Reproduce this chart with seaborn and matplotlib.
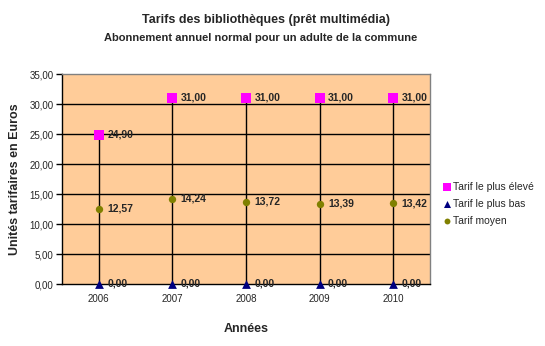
import matplotlib
matplotlib.use("Agg")
import matplotlib.pyplot as plt
import seaborn as sns
import pandas as pd
import numpy as np

years = ["2006", "2007", "2008", "2009", "2010"]
tarif_max = [24.90, 31.00, 31.00, 31.00, 31.00]
tarif_min = [0.00, 0.00, 0.00, 0.00, 0.00]
tarif_moyen = [12.57, 14.24, 13.72, 13.39, 13.42]
y_ticks = [0, 5, 10, 15, 20, 25, 30, 35]

sns.set_style("white")
plt.rcParams["font.family"] = ["Liberation Sans", "DejaVu Sans"]

fig = plt.figure(figsize=(5.45, 3.46), dpi=100)
ax = fig.add_axes([62 / 545, 1 - 284 / 346, 368 / 545, 210 / 346])
ax.set_facecolor("#FFCC99")

pos = np.arange(len(years))
df = pd.DataFrame({"pos": pos, "max": tarif_max, "min": tarif_min, "moy": tarif_moyen})

for yv in y_ticks[1:-1]:
    ax.axhline(yv, color="black", lw=1.0, zorder=1)

# high-low lines between lowest and highest fare
ax.vlines(df["pos"], df["min"], df["max"], color="black", lw=1.0, zorder=2)

series = [
    ("max", "Tarif le plus élevé", "s", "#FF00FF", 42),
    ("min", "Tarif le plus bas", "^", "#000080", 40),
    ("moy", "Tarif moyen", "o", "#808000", 28),
]
for col, label, mk, color, size in series:
    sns.scatterplot(data=df, x="pos", y=col, marker=mk, color=color, s=size,
                    edgecolor=color, linewidth=0, label=label, ax=ax, zorder=3,
                    clip_on=False)
    for x, v in zip(df["pos"], df[col]):
        ax.annotate(f"{v:.2f}".replace(".", ","), (x, v), xytext=(6, 0),
                    textcoords="offset points", ha="left", va="center",
                    fontsize=7.5, fontweight="bold", zorder=4)

ax.set_xlim(-0.5, len(years) - 0.5)
ax.set_ylim(0, 35)
ax.set_yticks(y_ticks)
ax.set_yticklabels([f"{v:.2f}".replace(".", ",") for v in y_ticks], fontsize=7)
ax.set_xticks(pos)
ax.set_xticklabels(years, fontsize=7)
ax.set_xticks(np.arange(-0.5, len(years)), minor=True)
ax.tick_params(axis="x", which="major", length=0, pad=7)
ax.tick_params(axis="x", which="minor", length=4, width=1, color="black", direction="out")
ax.tick_params(axis="y", length=4, width=1, color="black", direction="out", left=True, pad=2)

for side in ["left", "bottom"]:
    ax.spines[side].set_color("black")
    ax.spines[side].set_linewidth(1.0)
for side in ["top", "right"]:
    ax.spines[side].set_color("#808080")
    ax.spines[side].set_linewidth(1.0)

ax.set_xlabel("Années", fontsize=9, fontweight="bold", labelpad=14)
ax.set_ylabel("Unités tarifaires en Euros", fontsize=9, fontweight="bold", labelpad=6)

fig.text(266 / 545, 1 - 20 / 346, "Tarifs des bibliothèques (prêt multimédia)",
         ha="center", va="center", fontsize=9, fontweight="bold")
fig.text(261 / 545, 1 - 38 / 346, "Abonnement annuel normal pour un adulte de la commune",
         ha="center", va="center", fontsize=8, fontweight="bold")

ax.legend(loc="center left", bbox_to_anchor=(431 / 545, 1 - 204 / 346),
          bbox_transform=fig.transFigure, frameon=False, fontsize=7.5,
          handletextpad=0.0, labelspacing=0.65, markerscale=0.8,
          handlelength=1.2)

fig.savefig("out.png", dpi=100)
